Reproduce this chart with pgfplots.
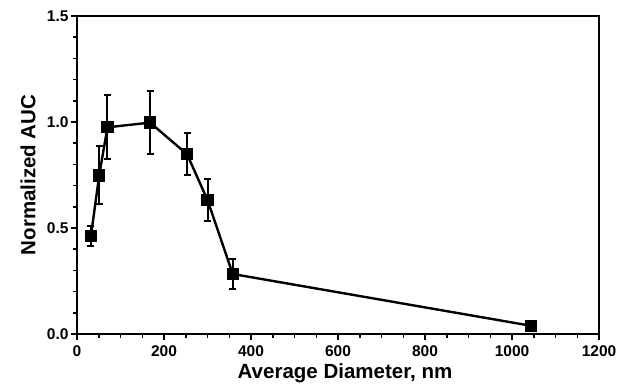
\documentclass[border=0pt]{standalone}
\usepackage{fontspec}
\setmainfont{Liberation Sans}
\usepackage{pgfplots}
\pgfplotsset{compat=1.18}
\begin{document}
\begin{tikzpicture}
\begin{axis}[
  at={(0,0)}, anchor=south west,
  scale only axis, width=522pt, height=318pt,
  xmin=0, xmax=1200, ymin=0, ymax=1.5,
  xtick={0,200,...,1200}, ytick={0,0.5,1.0,1.5},
  minor x tick num=3, minor y tick num=4,
  tick align=outside, xtick pos=left, ytick pos=left,
  major tick length=6pt, minor tick length=4pt,
  every tick/.style={line width=1.5pt, black},
  axis line style={line width=1.6pt},
  xticklabel={\fontsize{15.5}{17}\selectfont\bfseries\pgfmathprintnumber[assume math mode=true, fixed, 1000 sep={}]{\tick}},
  yticklabel={\fontsize{15.5}{17}\selectfont\bfseries\pgfmathprintnumber[assume math mode=true, fixed, fixed zerofill, precision=1]{\tick}},
  xticklabel style={yshift=-2.5pt},
  yticklabel style={xshift=1pt},
  label style={font=\fontsize{20.5}{24}\selectfont\bfseries},
  xlabel={Average Diameter, nm},
  ylabel={Normalized AUC},
  xlabel style={at={(axis description cs:0.5134,-0.1226)}, anchor=center},
  ylabel style={at={(axis description cs:-0.0939,0.5)}, anchor=center},
  clip=false,
]
\addplot[black, line width=2.4pt, mark=square*, mark size=5pt,
  error bars/.cd, y dir=both, y explicit,
  error bar style={line width=2pt},
  error mark options={line width=2pt, mark size=3.5pt, rotate=90}]
  table[x=x, y=y, y error=e] {
  x y e
  32 0.462 0.048
  51 0.748 0.137
  70 0.975 0.15
  168 0.997 0.15
  253 0.848 0.10
  300 0.632 0.10
  358 0.283 0.07
  1043 0.039 0.0
};
\end{axis}
\pgfresetboundingbox
\path (-77pt,-53pt) rectangle (541pt,334pt);
\end{tikzpicture}
\end{document}
